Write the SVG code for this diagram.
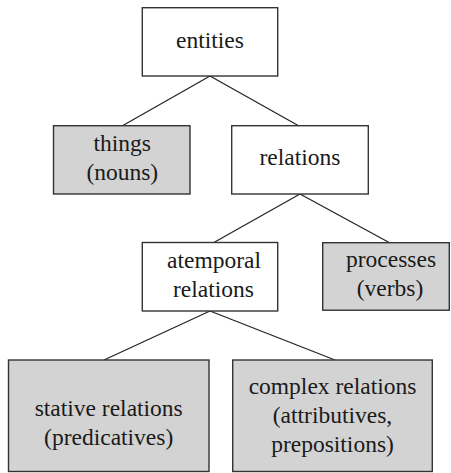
<svg xmlns="http://www.w3.org/2000/svg" width="451" height="473" viewBox="0 0 451 473">
<style>
.box{stroke:#333;stroke-width:1.4;fill:#fff}
.shaded{fill:#d3d3d3}
.conn line{stroke:#222;stroke-width:1.2}
text{font-family:'Liberation Serif','Times New Roman',Tinos,'Noto Serif','DejaVu Serif',FreeSerif,'Nimbus Roman',Georgia,serif;font-size:23.5px;fill:#1a1a1a;text-anchor:middle}
</style>
<rect width="451" height="473" fill="#fff"/>
<g id="connectors" class="conn">
<line x1="210" y1="76" x2="122" y2="126"/>
<line x1="210" y1="76" x2="299" y2="126"/>
<line x1="300" y1="194" x2="213" y2="243"/>
<line x1="300" y1="194" x2="390" y2="243"/>
<line x1="210" y1="311" x2="104" y2="360"/>
<line x1="210" y1="311" x2="335" y2="360"/>
</g>
<g id="entities">
<rect class="box" x="142.3" y="7.7" width="135.4" height="68.3"/>
<text x="210" y="47.5">entities</text>
</g>
<g id="things">
<rect class="box shaded" x="53.5" y="125.7" width="136.5" height="68.3"/>
<text x="122.3" y="151">things</text>
<text x="122.3" y="179.5">(nouns)</text>
</g>
<g id="relations">
<rect class="box" x="231.7" y="125.7" width="136.6" height="68.3"/>
<text x="300" y="165">relations</text>
</g>
<g id="atemporal">
<rect class="box" x="142.3" y="242.5" width="135.4" height="68.5"/>
<text x="214" y="267.5">atemporal</text>
<text x="213.5" y="296.5">relations</text>
</g>
<g id="processes">
<rect class="box shaded" x="322.7" y="242.7" width="126.6" height="67.5"/>
<text x="391" y="267">processes</text>
<text x="390" y="295.5">(verbs)</text>
</g>
<g id="stative">
<rect class="box shaded" x="8.5" y="360" width="200.5" height="111.5"/>
<text x="108.7" y="416">stative relations</text>
<text x="108.7" y="445">(predicatives)</text>
</g>
<g id="complex">
<rect class="box shaded" x="232.7" y="360" width="199.6" height="111.5"/>
<text x="332.5" y="393.5">complex relations</text>
<text x="332.5" y="422.5">(attributives,</text>
<text x="332.5" y="451.5">prepositions)</text>
</g>
</svg>
